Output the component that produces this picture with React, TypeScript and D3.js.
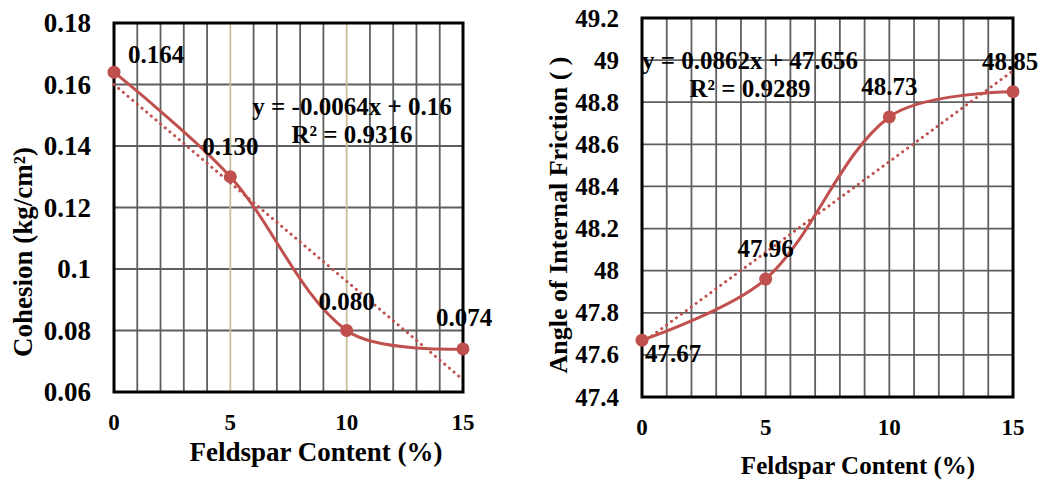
import * as d3 from 'd3';

// ---- data ----
const feldspar = [0, 5, 10, 15];
const cohesion = [0.164, 0.13, 0.08, 0.074];
const cohesionLabels = ['0.164', '0.130', '0.080', '0.074'];
const friction = [47.67, 47.96, 48.73, 48.85];
const frictionLabels = ['47.67', '47.96', '48.73', '48.85'];

const cohesionTicks = [0.06, 0.08, 0.1, 0.12, 0.14, 0.16, 0.18];
const cohesionTickLabels = ['0.06', '0.08', '0.1', '0.12', '0.14', '0.16', '0.18'];
const frictionTicks = [47.4, 47.6, 47.8, 48, 48.2, 48.4, 48.6, 48.8, 49, 49.2];
const frictionTickLabels = ['47.4', '47.6', '47.8', '48', '48.2', '48.4', '48.6', '48.8', '49', '49.2'];
const xTicks = [0, 5, 10, 15];

// linear trendlines (Excel)
const cohesionTrend = { slope: -0.0064, intercept: 0.16, eq: 'y = -0.0064x + 0.16', r2: 'R² = 0.9316' };
const frictionTrend = { slope: 0.0862, intercept: 47.656, eq: 'y = 0.0862x + 47.656', r2: 'R² = 0.9289' };

const RED = '#c0504d';
const FONT = '"Liberation Serif", "Times New Roman", serif';

// Excel-like smoothed line: bezier with tangents scaled by neighbouring segment lengths
function smoothPath(pts: [number, number][]) {
  const p = d3.path();
  const n = pts.length;
  const dist = (a: [number, number], b: [number, number]) => Math.hypot(b[0] - a[0], b[1] - a[1]);
  p.moveTo(pts[0][0], pts[0][1]);
  for (let i = 0; i < n - 1; i++) {
    const a = pts[i], b = pts[i + 1];
    const d = dist(a, b);
    let c1: [number, number] = a, c2: [number, number] = b;
    if (i > 0) {
      const prev = pts[i - 1];
      const k = d / (dist(prev, a) + d) / 3;
      c1 = [a[0] + (b[0] - prev[0]) * k, a[1] + (b[1] - prev[1]) * k];
    }
    if (i + 2 < n) {
      const next = pts[i + 2];
      const k = d / (d + dist(b, next)) / 3;
      c2 = [b[0] - (next[0] - a[0]) * k, b[1] - (next[1] - a[1]) * k];
    }
    p.bezierCurveTo(c1[0], c1[1], c2[0], c2[1], b[0], b[1]);
  }
  return p.toString();
}

type PanelProps = {
  left: number; right: number; top: number; bottom: number;
  yDomain: [number, number];
  yTicks: number[]; yTickLabels: string[];
  values: number[]; labels: string[];
  labelOffsets: { dx: number; dy: number; anchor: string }[];
  trend: { slope: number; intercept: number; eq: string; r2: string };
  eqPos: { x: number; y: number };
  yTitle: string; yTitlePos: { x: number; y: number }; yTitleSize: number;
  xTitlePos: { x: number; y: number }; xTitleSize: number;
  yTickSize: number; xTickY: number;
  accentLines: number[];
};

function Panel(p: PanelProps) {
  const x = d3.scaleLinear().domain([0, 15]).range([p.left, p.right]);
  const y = d3.scaleLinear().domain(p.yDomain).range([p.bottom, p.top]);
  const pts: [number, number][] = feldspar.map((f, i) => [x(f), y(p.values[i])]);
  const smooth = smoothPath(pts);
  const tr = (v: number) => p.trend.slope * v + p.trend.intercept;
  const minor = d3.range(0, 16);

  return (
    <g fontFamily={FONT} fontWeight="bold" fill="#000">
      {/* grid */}
      {p.yTicks.map((t) => (
        <line key={'h' + t} x1={p.left} x2={p.right} y1={y(t)} y2={y(t)} stroke="#5f5f5f" strokeWidth={1.8} />
      ))}
      {minor.map((m) => (
        <line key={'v' + m} x1={x(m)} x2={x(m)} y1={p.top} y2={p.bottom}
          stroke={p.accentLines.includes(m) ? '#c9bd98' : '#5f5f5f'} strokeWidth={1.8} />
      ))}
      <rect x={p.left} y={p.top} width={p.right - p.left} height={p.bottom - p.top}
        fill="none" stroke="#000" strokeWidth={3} />

      {/* trendline */}
      <line x1={x(0)} y1={y(tr(0))} x2={x(15)} y2={y(tr(15))} stroke={RED}
        strokeWidth={3} strokeDasharray="0.1 6" strokeLinecap="round" />
      {/* smoothed series */}
      <path d={smooth} fill="none" stroke={RED} strokeWidth={3} />
      {pts.map(([px, py], i) => (
        <circle key={'c' + i} cx={px} cy={py} r={6.5} fill={RED} />
      ))}

      {/* data labels */}
      {pts.map(([px, py], i) => (
        <text key={'l' + i} x={px + p.labelOffsets[i].dx} y={py + p.labelOffsets[i].dy}
          textAnchor={p.labelOffsets[i].anchor} dominantBaseline="central" fontSize={25}>
          {p.labels[i]}
        </text>
      ))}

      {/* trend equation */}
      <text x={p.eqPos.x} y={p.eqPos.y} textAnchor="middle" dominantBaseline="central" fontSize={25}>{p.trend.eq}</text>
      <text x={p.eqPos.x} y={p.eqPos.y + 28} textAnchor="middle" dominantBaseline="central" fontSize={25}>{p.trend.r2}</text>

      {/* axes labels */}
      {p.yTicks.map((t, i) => (
        <text key={'yt' + t} x={p.left - 23} y={y(t)} textAnchor="end" dominantBaseline="central" fontSize={p.yTickSize}>
          {p.yTickLabels[i]}
        </text>
      ))}
      {xTicks.map((t) => (
        <text key={'xt' + t} x={x(t)} y={p.xTickY} textAnchor="middle" dominantBaseline="central" fontSize={23}>{t}</text>
      ))}
      <text x={p.xTitlePos.x} y={p.xTitlePos.y} textAnchor="middle" dominantBaseline="central" fontSize={p.xTitleSize}>
        Feldspar Content (%)
      </text>
      <text transform={`translate(${p.yTitlePos.x},${p.yTitlePos.y}) rotate(-90)`} textAnchor="middle"
        dominantBaseline="central" fontSize={p.yTitleSize}>
        {p.yTitle}
      </text>
    </g>
  );
}

export default function App() {
  return (
    <svg width={1041} height={480} style={{ position: 'absolute', left: 0, top: 0, background: '#fff' }}>
      <rect width={1041} height={480} fill="#fff" />
      <Panel
        left={114} right={463} top={23} bottom={392}
        yDomain={[0.06, 0.18]} yTicks={cohesionTicks} yTickLabels={cohesionTickLabels}
        values={cohesion} labels={cohesionLabels}
        labelOffsets={[
          { dx: 14, dy: -18, anchor: 'start' },
          { dx: 0, dy: -30, anchor: 'middle' },
          { dx: 0, dy: -29, anchor: 'middle' },
          { dx: 1, dy: -31, anchor: 'middle' },
        ]}
        trend={cohesionTrend} eqPos={{ x: 352, y: 106 }}
        yTitle="Cohesion (kg/cm²)" yTitlePos={{ x: 23, y: 252 }} yTitleSize={27}
        xTitlePos={{ x: 316, y: 452 }} xTitleSize={27}
        yTickSize={27} xTickY={422} accentLines={[5, 10]}
      />
      <Panel
        left={642} right={1013} top={18} bottom={397}
        yDomain={[47.4, 49.2]} yTicks={frictionTicks} yTickLabels={frictionTickLabels}
        values={friction} labels={frictionLabels}
        labelOffsets={[
          { dx: 3, dy: 13, anchor: 'start' },
          { dx: 0, dy: -31, anchor: 'middle' },
          { dx: 0, dy: -30, anchor: 'middle' },
          { dx: -3, dy: -30, anchor: 'middle' },
        ]}
        trend={frictionTrend} eqPos={{ x: 750, y: 60 }}
        yTitle="Angle of Internal Friction ( )" yTitlePos={{ x: 558, y: 215 }} yTitleSize={26}
        xTitlePos={{ x: 858, y: 465 }} xTitleSize={25}
        yTickSize={25} xTickY={427} accentLines={[]}
      />
    </svg>
  );
}
